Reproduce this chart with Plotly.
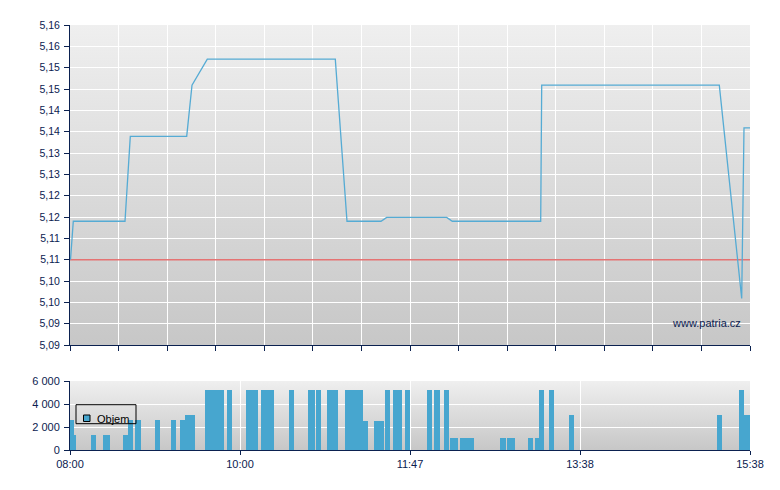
import base64
import plotly.graph_objects as go

# ---------------- data ----------------
# x is a uniform time-slot index (0 = 08:00 ... 136 = 15:38)
price_x = [0.1, 0.66, 11.0, 12.06, 23.34, 24.4, 27.46, 53.06, 55.4, 62.2, 63.34,
           75.34, 76.46, 94.14, 94.34, 129.86, 134.34, 134.8, 136]
price_y = [5.1075, 5.1165, 5.1165, 5.1364, 5.1364, 5.1484, 5.1545, 5.1545, 5.1165,
           5.1165, 5.1174, 5.1174, 5.1165, 5.1165, 5.1484, 5.1484, 5.0984, 5.1384, 5.1384]
prev_close = 5.1075

vol_x = [0.3, 0.7, 4.7, 7.1, 7.5, 11.1, 12.1, 13.5, 13.7, 17.5, 20.7, 22.5, 23.5, 24.5,
         27.5, 28.5, 29.5, 30.3, 31.9, 35.7, 36.7, 37.1, 38.7, 39.7, 40.3, 44.3,
         48.1, 48.5, 49.7, 51.9, 52.9, 53.1, 55.5, 56.5, 57.5, 58.1, 59.1, 61.3, 62.3,
         63.5, 65.1, 65.9, 67.5, 71.9, 73.3, 73.5, 75.3, 76.5, 77.1, 78.5, 79.5, 80.3,
         86.5, 86.7, 87.9, 88.5, 92.1, 93.5, 94.3, 96.3, 100.3, 129.9, 134.3, 135.3, 136.1]
vol_y = [2600, 1300, 1300, 1300, 1300, 1300, 2600, 2600, 2600, 2600, 2600, 2600, 3030, 3030,
         5200, 5200, 5200, 5200, 5200, 5200, 5200, 5200, 5200, 5200, 5200, 5200,
         5200, 5200, 5200, 5200, 5200, 5200, 5200, 5200, 5200, 5200, 2500, 2500, 2500,
         5200, 5200, 5200, 5200, 5200, 5200, 5200, 5200, 1040, 1040, 1040, 1040, 1040,
         1040, 1040, 1040, 1040, 1040, 1040, 5200, 5200, 3030, 3030, 5200, 3030, 3030]

x_tick_vals = [0, 34, 68, 102, 136]
x_tick_text = ["08:00", "10:00", "11:47", "13:38", "15:38"]

price_tick_vals = [5.0875 + 0.005 * k for k in range(16)]
price_tick_text = ["5,09", "5,09", "5,10", "5,10", "5,11", "5,11", "5,12", "5,12",
                   "5,13", "5,13", "5,14", "5,14", "5,15", "5,15", "5,16", "5,16"]
vol_tick_vals = [0, 2000, 4000, 6000]
legend_label = "Objem"

# ---------------- styles / layout ----------------
NAVY = "#0b2150"
BLUE = "#47a6cf"
LINE_BLUE = "#55abd4"
RED = "#e57373"
FONT = "Liberation Sans, Arial, sans-serif"

W, H = 780, 490
OFF = 8  # page body margin of the browser
ML, MR, MT, MB = 70 - OFF, 30 + OFF, 25 - OFF, 40 + OFF
PW = W - ML - MR
PH = H - MT - MB


def px(xp):  # window pixel -> paper x
    return (xp - OFF - ML) / PW


def py(yp):  # window pixel -> paper y
    return (H - MB - (yp - OFF)) / PH


main_bottom = py(345)
vol_top = py(381)

fig = go.Figure()

fig.add_trace(go.Scatter(x=[0, 136], y=[prev_close, prev_close], mode="lines",
                         line=dict(color=RED, width=1.5), showlegend=False,
                         hoverinfo="skip", xaxis="x", yaxis="y"))
fig.add_trace(go.Scatter(x=price_x, y=price_y, mode="lines",
                         line=dict(color=LINE_BLUE, width=1.3), showlegend=False,
                         xaxis="x", yaxis="y"))
fig.add_trace(go.Bar(x=vol_x, y=vol_y, width=1, name=legend_label,
                     marker=dict(color=BLUE, line=dict(width=0)),
                     showlegend=False, xaxis="x2", yaxis="y2"))

svg = ('<svg xmlns="http://www.w3.org/2000/svg" width="10" height="100" viewBox="0 0 10 100" '
       'preserveAspectRatio="none"><defs><linearGradient id="g" x1="0" y1="0" x2="0" y2="1">'
       '<stop offset="0" stop-color="#efefef"/><stop offset="1" stop-color="#c7c7c7"/>'
       '</linearGradient></defs><rect width="10" height="100" fill="url(#g)"/></svg>')
uri = "data:image/svg+xml;base64," + base64.b64encode(svg.encode()).decode()

images = [
    dict(source=uri, xref="paper", yref="paper", x=0, y=1, sizex=1, sizey=1 - main_bottom,
         xanchor="left", yanchor="top", sizing="stretch", layer="below"),
    dict(source=uri, xref="paper", yref="paper", x=0, y=vol_top, sizex=1, sizey=vol_top,
         xanchor="left", yanchor="top", sizing="stretch", layer="below"),
]

# hand-drawn legend box (matches the compact legend of the original)
shapes = [
    dict(type="rect", xref="paper", yref="paper", x0=px(76), x1=px(136),
         y0=py(423.7), y1=py(404.7), line=dict(color="black", width=1),
         fillcolor="rgba(0,0,0,0)", layer="above"),
    dict(type="rect", xref="paper", yref="paper", x0=px(83.5), x1=px(90),
         y0=py(421.5), y1=py(415), line=dict(color="black", width=1),
         fillcolor=BLUE, layer="above"),
]

axis_common = dict(showline=True, linecolor=NAVY, linewidth=1, ticks="outside",
                   tickcolor=NAVY, gridcolor="white", gridwidth=1, zeroline=False)
tf11 = dict(family=FONT, size=11, color=NAVY)
tf10 = dict(family=FONT, size=10.5, color=NAVY)

fig.update_layout(
    width=W, height=H,
    margin=dict(l=ML, r=MR, t=MT, b=MB),
    paper_bgcolor="white", plot_bgcolor="rgba(0,0,0,0)",
    separators=", ",
    font=dict(family=FONT, size=11, color=NAVY),
    images=images,
    shapes=shapes,
    xaxis=dict(domain=[0, 1], range=[0, 136], anchor="y", tickmode="array",
               tickvals=[136 / 14 * k for k in range(15)], showticklabels=False,
               ticklen=5, showgrid=True, tickfont=tf11, **axis_common),
    yaxis=dict(domain=[main_bottom, 1], range=[5.0875, 5.1625], anchor="x",
               tickmode="array", tickvals=price_tick_vals, ticktext=price_tick_text,
               ticklen=5, showgrid=True, ticklabelstandoff=2, tickfont=tf10, **axis_common),
    xaxis2=dict(domain=[0, 1], range=[0, 136], anchor="y2", tickmode="array",
                tickvals=x_tick_vals, ticktext=x_tick_text, ticklen=4, showgrid=True,
                tickfont=tf11, **axis_common),
    yaxis2=dict(domain=[0, vol_top], range=[0, 6000], anchor="x2", tickmode="array",
                tickvals=vol_tick_vals, tickformat=",d", ticklen=5, showgrid=True,
                ticklabelstandoff=2, tickfont=tf11, **axis_common),
    showlegend=False,
    annotations=[
        dict(text="www.patria.cz", xref="x domain", yref="y domain",
             x=0.99, y=0.07, xanchor="right", yanchor="middle", showarrow=False,
             font=dict(family=FONT, size=11, color=NAVY)),
        dict(text=legend_label, xref="paper", yref="paper", x=px(94.5), y=py(418.5),
             xanchor="left", yanchor="middle", showarrow=False,
             font=dict(family=FONT, size=11, color="black")),
    ],
    bargap=0,
)

fig.write_html("out.html")
